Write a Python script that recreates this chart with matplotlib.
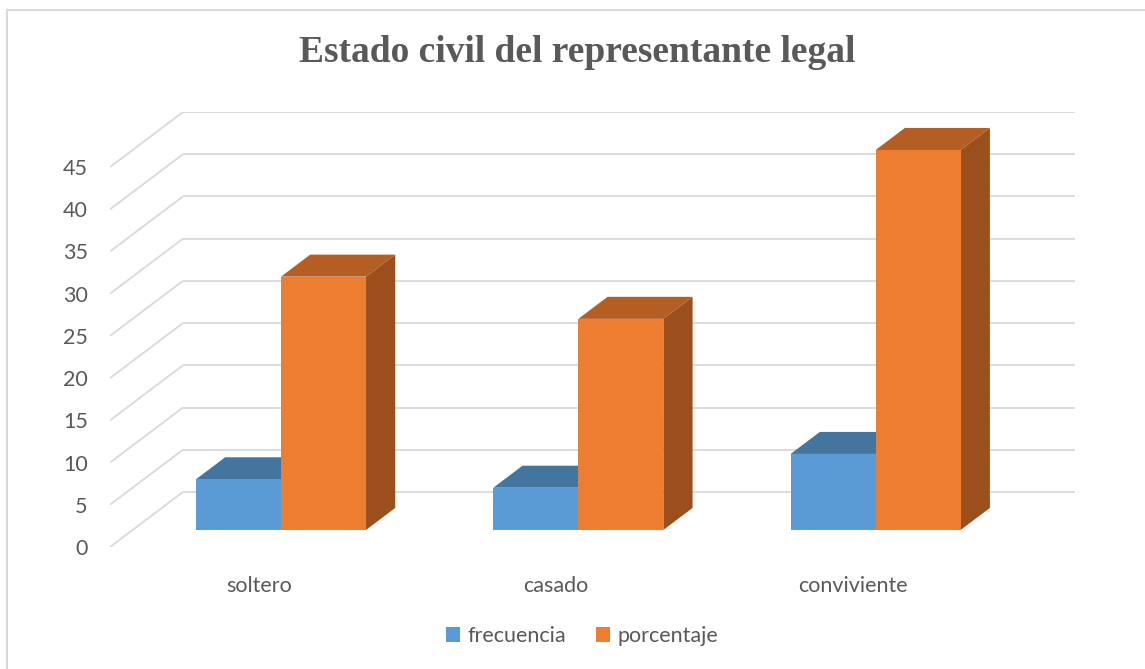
import matplotlib.pyplot as plt
from matplotlib.patches import Polygon, Patch, Rectangle

categories = ["soltero", "casado", "conviviente"]
series_names = ["frecuencia", "porcentaje"]
frecuencia = [6, 5, 9]
porcentaje = [30, 25, 45]
y_ticks = [0, 5, 10, 15, 20, 25, 30, 35, 40, 45]

front_colors = ["#5B9BD5", "#ED7D31"]
top_colors = ["#44759F", "#B55E23"]
side_colors = ["#3C6790", "#9A4F1D"]
text_color = "#595959"
grid_color = "#D9D9D9"

# oblique "3d" offsets in data units (full depth of the wall)
DX, DY = 0.2455, 6.52
D0, D1 = 0.31, 0.71   # bar front / back depth
BAR_W = 0.286
GAP = 0.213

fig = plt.figure(figsize=(11.45, 6.69), dpi=100)
ax = fig.add_axes([110 / 1145, 122 / 669, 965 / 1145, 435 / 669])
ax.set_xlim(0, len(categories) + DX)
ax.set_ylim(0, y_ticks[-1] + DY)
for s in ax.spines.values():
    s.set_visible(False)

# walls
for v in y_ticks:
    ax.plot([0, DX], [v, v + DY], color=grid_color, lw=1.3, zorder=1,
            solid_capstyle="butt")
    ax.plot([DX, len(categories) + DX], [v + DY, v + DY], color=grid_color,
            lw=1.3, zorder=1, solid_capstyle="butt")

def box(x0, h, k):
    fx, fy = D0 * DX, D0 * DY
    bx, by = D1 * DX, D1 * DY
    x1 = x0 + BAR_W
    top = [(x0 + fx, h + fy), (x1 + fx, h + fy), (x1 + bx, h + by), (x0 + bx, h + by)]
    side = [(x1 + fx, fy), (x1 + bx, by), (x1 + bx, h + by), (x1 + fx, h + fy)]
    front = [(x0 + fx, fy), (x1 + fx, fy), (x1 + fx, h + fy), (x0 + fx, h + fy)]
    ax.add_patch(Polygon(top, closed=True, fc=top_colors[k], ec="none", zorder=3))
    ax.add_patch(Polygon(side, closed=True, fc=side_colors[k], ec="none", zorder=3))
    ax.add_patch(Polygon(front, closed=True, fc=front_colors[k], ec="none", zorder=3))

for i in range(len(categories)):
    for k, vals in enumerate([frecuencia, porcentaje]):
        box(i + GAP + k * BAR_W, vals[i], k)

font = ["Lato", "DejaVu Sans"]
fs = 15.5
ax.set_yticks(y_ticks)
ax.set_yticklabels([str(v) for v in y_ticks], family=font, fontsize=fs, color=text_color)
ax.tick_params(axis="y", length=0, pad=16)
ax.set_xticks([i + 0.5 for i in range(len(categories))])
ax.set_xticklabels(categories, family=font, fontsize=fs, color=text_color)
ax.tick_params(axis="x", length=0, pad=21)

handles = [Patch(fc=c, ec="none") for c in front_colors]
fig.legend(handles, series_names, loc="center", bbox_to_anchor=(582 / 1145, 1 - 636 / 669),
           ncol=2, frameon=False, handlelength=0.65, handleheight=0.65,
           handletextpad=0.35, columnspacing=1.4,
           prop={"family": font, "size": fs}, labelcolor=text_color)

fig.text(577 / 1145, 1 - 53 / 669, "Estado civil del representante legal",
         ha="center", va="center", family=["Liberation Serif", "DejaVu Serif"],
         fontweight="bold", fontsize=27, color=text_color)

fig.patches.append(Rectangle((6.5 / 1145, -0.1), 1.2, 1.1 - 9.5 / 669,
                             transform=fig.transFigure, fill=False,
                             ec=grid_color, lw=1.5))

fig.savefig("out.png", dpi=100)
